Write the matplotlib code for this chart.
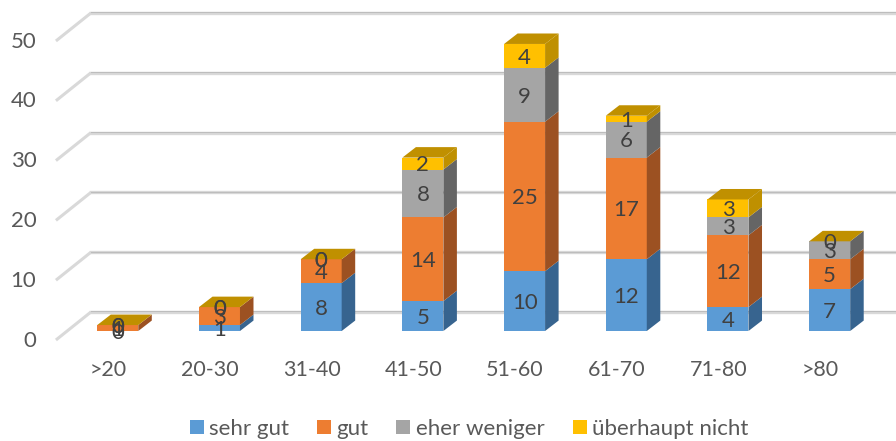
import numpy as np
import matplotlib.pyplot as plt
from matplotlib.patches import Polygon

plt.rcParams['font.family'] = ['Lato', 'DejaVu Sans']

# values
categories = ['>20', '20-30', '31-40', '41-50', '51-60', '61-70', '71-80', '>80']
sehr_gut = [0, 1, 8, 5, 10, 12, 4, 7]
gut = [1, 3, 4, 14, 25, 17, 12, 5]
eher_weniger = [0, 0, 0, 8, 9, 6, 3, 3]
ueberhaupt_nicht = [0, 0, 0, 2, 4, 1, 3, 0]
y_ticks = [0, 10, 20, 30, 40, 50]

series_names = ['sehr gut', 'gut', 'eher weniger', 'überhaupt nicht']
series = [sehr_gut, gut, eher_weniger, ueberhaupt_nicht]
front_colors = ['#5B9BD5', '#ED7D31', '#A5A5A5', '#FFC000']
side_colors = ['#37648F', '#9C5122', '#656565', '#BF9000']
top_color = '#C09000'

# axes fill the whole figure, the limits put the bars where the picture has them
fig = plt.figure(figsize=(8.96, 4.41), dpi=100)
ax = fig.add_axes([0, 0, 1, 1])
ax.set_xlim(-1.158, 7.652)
ax.set_ylim(-18.39, 55.35)
ax.axis('off')

bar_width = 0.403
depth_x = 0.133   # depth of the fake 3d boxes
depth_y = 1.75
wall_x = -0.264   # back wall and front edge of the floor
wall_y = 3.18
edge_x = -0.608
edge_y = -1.5

# gridlines on the back wall and left side
for v in y_ticks:
    ax.plot([edge_x, wall_x], [edge_y + v, wall_y + v], color='#D9D9D9', lw=2.2,
            solid_capstyle='butt', zorder=1)
    ax.plot([wall_x, 7.652], [wall_y + v, wall_y + v], color='#D9D9D9', lw=2.4, zorder=1)
    ax.plot([wall_x, 7.652], [wall_y + v + 0.1, wall_y + v + 0.1], color='#BDBDBD', lw=0.8, zorder=1)
    ax.text(-0.80, v - 1.6, str(v), ha='right', va='center', fontsize=16, color='#595959')

x = np.arange(len(categories))
bottom = np.zeros(len(categories))
handles = []

for name, vals, fc, sc in zip(series_names, series, front_colors, side_colors):
    vals = np.array(vals)
    bars = ax.bar(x, vals, bar_width, bottom=bottom, color=fc, label=name, zorder=3)
    handles.append(bars[0])
    for xi, b, v in zip(x, bottom, vals):
        if v == 0:
            continue
        right = xi + bar_width / 2
        ax.add_patch(Polygon([(right, b), (right + depth_x, b + depth_y),
                              (right + depth_x, b + v + depth_y), (right, b + v)],
                             facecolor=sc, edgecolor='none', zorder=3))
    bottom = bottom + vals

# top faces, colour of the last series
for xi, total in zip(x, bottom):
    left = xi - bar_width / 2
    right = xi + bar_width / 2
    ax.add_patch(Polygon([(left, total), (right, total),
                          (right + depth_x, total + depth_y), (left + depth_x, total + depth_y)],
                         facecolor=top_color, edgecolor='none', zorder=3))

# data labels, also for the zero values
bottom = np.zeros(len(categories))
for vals in series:
    for xi, b, v in zip(x, bottom, vals):
        ax.text(xi, b + v / 2 - 0.3, str(v), ha='center', va='center', fontsize=16,
                color='#404040', zorder=5)
    bottom = bottom + np.array(vals)

for xi, c in zip(x, categories):
    ax.text(xi - 0.095, -6.55, c, ha='center', va='center', fontsize=15.5, color='#595959')

fig.legend(handles, series_names, ncol=4, loc='center', bbox_to_anchor=(0.5235, 0.028),
           frameon=False, fontsize=16, labelcolor='#595959', handlelength=0.63, handleheight=0.63,
           handletextpad=0.25, columnspacing=1.25)

plt.savefig('out.png', dpi=100)
